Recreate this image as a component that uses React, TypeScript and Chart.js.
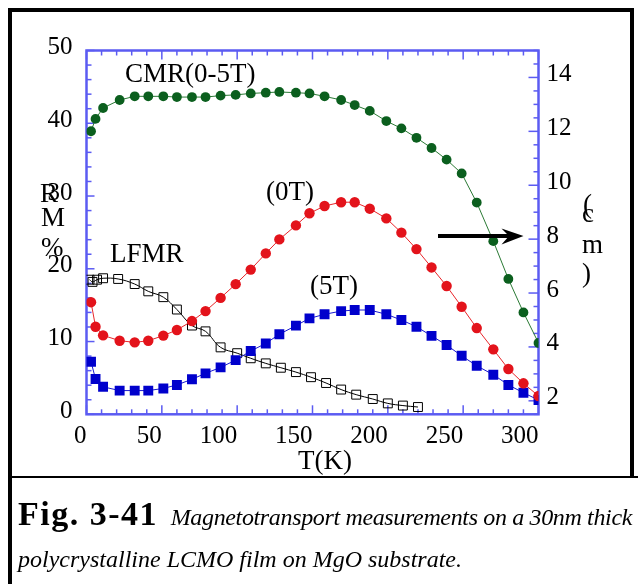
import React, { useEffect, useRef } from 'react';
import { Chart, registerables } from 'chart.js';

Chart.register(...registerables);

// ---------------- data ----------------
const temperature = [3, 6, 11, 22, 32, 41, 51, 60, 70, 79, 89, 99, 109, 119, 128, 139, 148, 158, 169, 178, 188, 199, 209, 219, 229, 239, 249, 259, 270, 280, 290, 300];
const cmrPercent = [38.9, 40.6, 42.1, 43.2, 43.7, 43.7, 43.7, 43.6, 43.6, 43.6, 43.8, 43.9, 44.1, 44.2, 44.3, 44.2, 44.1, 43.7, 43.2, 42.5, 41.7, 40.3, 39.3, 38.0, 36.6, 35.0, 33.1, 29.1, 23.8, 18.6, 14.0, 9.8];
const rho0T = [5.66, 4.75, 4.43, 4.23, 4.17, 4.23, 4.42, 4.63, 4.96, 5.33, 5.82, 6.33, 6.87, 7.47, 7.99, 8.51, 8.96, 9.23, 9.37, 9.37, 9.13, 8.77, 8.24, 7.63, 6.95, 6.26, 5.49, 4.7, 3.91, 3.18, 2.65, 2.18];
const rho5T = [3.45, 2.81, 2.52, 2.38, 2.38, 2.38, 2.46, 2.59, 2.8, 3.02, 3.24, 3.51, 3.85, 4.13, 4.47, 4.79, 5.06, 5.21, 5.33, 5.37, 5.37, 5.21, 5.0, 4.75, 4.41, 4.07, 3.67, 3.3, 2.97, 2.59, 2.3, 2.03];
const lfmrTemperature = [2, 4, 7, 11, 21, 32, 41, 51, 60, 70, 79, 89, 100, 109, 119, 129, 139, 149, 159, 169, 179, 190, 200, 210, 220];
const lfmrPercent = [18.5, 18.2, 18.5, 18.7, 18.6, 17.9, 16.9, 16.1, 14.4, 12.2, 11.4, 9.2, 8.4, 7.7, 7.0, 6.4, 5.8, 5.1, 4.3, 3.4, 2.7, 2.1, 1.5, 1.2, 1.0];

const xTickValues = [0, 50, 100, 150, 200, 250, 300];
const xMinorStep = 10;
const leftTickValues = [0, 10, 20, 30, 40, 50];
const leftMinorStep = 2;
const rightTickValues = [2, 4, 6, 8, 10, 12, 14];
const rightMinorStep = 0.5;

const SERIF = '"Liberation Serif", "Times New Roman", serif';
const AXIS_COLOR = '#5b5bf2';

function line(ctx: CanvasRenderingContext2D, x1: number, y1: number, x2: number, y2: number) {
  ctx.beginPath();
  ctx.moveTo(x1, y1);
  ctx.lineTo(x2, y2);
  ctx.stroke();
}

const boxAxesPlugin = {
  id: 'boxAxes',
  beforeDatasetsDraw(chart: any) {
    const { ctx, chartArea: a, scales } = chart;
    const xs = scales.x, yl = scales.y, yr = scales.y2;
    ctx.save();
    ctx.strokeStyle = AXIS_COLOR;
    ctx.lineWidth = 1.5;
    for (let v = xs.min; v <= xs.max + 1e-9; v += xMinorStep) {
      const major = xTickValues.some((t) => Math.abs(t - v) < 1e-6);
      const px = xs.getPixelForValue(v);
      const len = major ? 9 : 5;
      line(ctx, px, a.bottom, px, a.bottom - len);
      line(ctx, px, a.top, px, a.top + len);
    }
    for (let v = yl.min; v <= yl.max + 1e-9; v += leftMinorStep) {
      const major = leftTickValues.some((t) => Math.abs(t - v) < 1e-6);
      const py = yl.getPixelForValue(v);
      line(ctx, a.left, py, a.left + (major ? 8 : 5), py);
    }
    for (let v = Math.ceil(yr.min / rightMinorStep) * rightMinorStep; v <= yr.max + 1e-9; v += rightMinorStep) {
      const major = rightTickValues.some((t) => Math.abs(t - v) < 1e-6);
      const py = yr.getPixelForValue(v);
      line(ctx, a.right, py, a.right - (major ? 10 : 5), py);
    }
    ctx.lineWidth = 2.5;
    ctx.strokeRect(a.left, a.top, a.right - a.left, a.bottom - a.top);
    ctx.restore();
  },
  afterDatasetsDraw(chart: any) {
    const { ctx } = chart;
    ctx.save();
    ctx.fillStyle = '#000';
    ctx.textBaseline = 'alphabetic';
    ctx.textAlign = 'left';
    ctx.font = `27px ${SERIF}`;
    ctx.fillText('CMR(0-5T)', 125, 81.5);
    ctx.fillText('(0T)', 266, 200);
    ctx.fillText('(5T)', 310, 293.5);
    ctx.fillText('LFMR', 110, 262);
    ctx.fillText('T(K)', 298, 469);
    // left axis title (stacked letters)
    ctx.fillText('R', 40, 202);
    ctx.fillText('M', 41, 226);
    ctx.fillText('%', 41, 256);
    // right axis title
    ctx.fillText('(', 583, 213);
    ctx.fillText('c', 582, 221.5);
    ctx.fillText('m', 582, 253);
    ctx.fillText(')', 582, 282);
    // arrow
    ctx.strokeStyle = '#000';
    ctx.lineWidth = 4;
    line(ctx, 438, 236, 512, 236);
    ctx.beginPath();
    ctx.moveTo(523.5, 236);
    ctx.lineTo(501.5, 228.5);
    ctx.lineTo(509, 236);
    ctx.lineTo(501.5, 244.5);
    ctx.closePath();
    ctx.fillStyle = '#000';
    ctx.fill();
    ctx.restore();
  },
};

const tickFont = { family: SERIF, size: 25 };

export default function App() {
  const canvasRef = useRef<HTMLCanvasElement | null>(null);

  useEffect(() => {
    const canvas = canvasRef.current;
    if (!canvas) return;
    const chart = new Chart(canvas, {
      type: 'line',
      data: {
        datasets: [
          {
            label: 'CMR(0-5T)',
            data: temperature.map((t, i) => ({ x: t, y: cmrPercent[i] })),
            yAxisID: 'y',
            borderColor: '#2b7a35',
            borderWidth: 1,
            pointStyle: 'circle',
            pointRadius: 4.9,
            pointBackgroundColor: '#0b5f1e',
            pointBorderColor: '#0b5f1e',
            pointBorderWidth: 0,
            tension: 0,
            order: 0,
          },
          {
            label: '(0T)',
            data: temperature.map((t, i) => ({ x: t, y: rho0T[i] })),
            yAxisID: 'y2',
            borderColor: '#e8262b',
            borderWidth: 1,
            pointStyle: 'circle',
            pointRadius: 5.2,
            pointBackgroundColor: '#e3131b',
            pointBorderColor: '#e3131b',
            pointBorderWidth: 0,
            tension: 0,
            order: 1,
          },
          {
            label: '(5T)',
            data: temperature.map((t, i) => ({ x: t, y: rho5T[i] })),
            yAxisID: 'y2',
            borderColor: '#1a1ad0',
            borderWidth: 1,
            pointStyle: 'rect',
            pointRadius: 7,
            pointBackgroundColor: '#0000cc',
            pointBorderColor: '#0000cc',
            pointBorderWidth: 0,
            tension: 0,
            order: 2,
          },
          {
            label: 'LFMR',
            data: lfmrTemperature.map((t, i) => ({ x: t, y: lfmrPercent[i] })),
            yAxisID: 'y',
            borderColor: '#000',
            borderWidth: 1,
            pointStyle: 'rect',
            pointRadius: 6.3,
            pointBackgroundColor: 'rgba(255,255,255,0)',
            pointBorderColor: '#000',
            pointBorderWidth: 1,
            tension: 0.4,
            order: 3,
          },
        ],
      },
      options: {
        responsive: false,
        animation: false,
        devicePixelRatio: 1,
        layout: { padding: { left: 0, right: 39.5, top: 50.5, bottom: 109.7 } },
        plugins: { legend: { display: false }, tooltip: { enabled: false } },
        scales: {
          x: {
            type: 'linear',
            position: 'bottom',
            min: 0,
            max: 300,
            grid: { display: false, drawTicks: false },
            border: { display: false },
            afterBuildTicks: (s: any) => { s.ticks = xTickValues.map((v) => ({ value: v })); },
            afterFit: (s: any) => { s.height = 60; },
            ticks: { align: 'end', padding: 7, font: tickFont, color: '#000', maxRotation: 0, autoSkip: false },
          },
          y: {
            type: 'linear',
            position: 'left',
            min: 0,
            max: 50,
            grid: { display: false, drawTicks: false },
            border: { display: false },
            afterBuildTicks: (s: any) => { s.ticks = leftTickValues.map((v) => ({ value: v })); },
            afterFit: (s: any) => { s.width = 86.5; },
            ticks: { padding: 14, labelOffset: -3, font: tickFont, color: '#000', autoSkip: false },
          },
          y2: {
            type: 'linear',
            position: 'right',
            min: 1.5,
            max: 15,
            grid: { display: false, drawTicks: false },
            border: { display: false },
            afterBuildTicks: (s: any) => { s.ticks = rightTickValues.map((v) => ({ value: v })); },
            afterFit: (s: any) => { s.width = 60; },
            ticks: { padding: 8, labelOffset: -3, font: tickFont, color: '#000', autoSkip: false },
          },
        },
      },
      plugins: [boxAxesPlugin],
    } as any);
    return () => chart.destroy();
  }, []);

  const serif = SERIF;
  return (
    <div style={{ position: 'absolute', left: 0, top: 0, width: 638, height: 584, background: '#fff', overflow: 'hidden' }}>
      <canvas ref={canvasRef} width={638} height={584} style={{ position: 'absolute', left: 0, top: 0, width: 638, height: 584 }} />
      {/* frame */}
      <div style={{ position: 'absolute', left: 8, top: 8, width: 626, height: 4, background: '#000' }} />
      <div style={{ position: 'absolute', left: 8, top: 8, width: 4, height: 576, background: '#000' }} />
      <div style={{ position: 'absolute', left: 630, top: 8, width: 4, height: 470, background: '#000' }} />
      <div style={{ position: 'absolute', left: 8, top: 476, width: 630, height: 2, background: '#000' }} />
      {/* caption */}
      <div
        style={{
          position: 'absolute',
          left: 18,
          top: 497,
          fontFamily: serif,
          fontWeight: 'bold',
          fontSize: 34,
          letterSpacing: 1.5,
          lineHeight: '34px',
          whiteSpace: 'nowrap',
          color: '#000',
        }}
      >
        Fig. 3-41
      </div>
      <div
        style={{
          position: 'absolute',
          right: 6,
          top: 502,
          fontFamily: serif,
          fontStyle: 'italic',
          fontSize: 24,
          letterSpacing: -0.35,
          lineHeight: '30px',
          whiteSpace: 'nowrap',
          textAlign: 'right',
          color: '#000',
        }}
      >
        Magnetotransport measurements on a 30nm thick
      </div>
      <div
        style={{
          position: 'absolute',
          left: 18,
          top: 544,
          fontFamily: serif,
          fontStyle: 'italic',
          fontSize: 24,
          lineHeight: '30px',
          color: '#000',
          whiteSpace: 'nowrap',
        }}
      >
        polycrystalline LCMO film on MgO substrate.
      </div>
    </div>
  );
}
